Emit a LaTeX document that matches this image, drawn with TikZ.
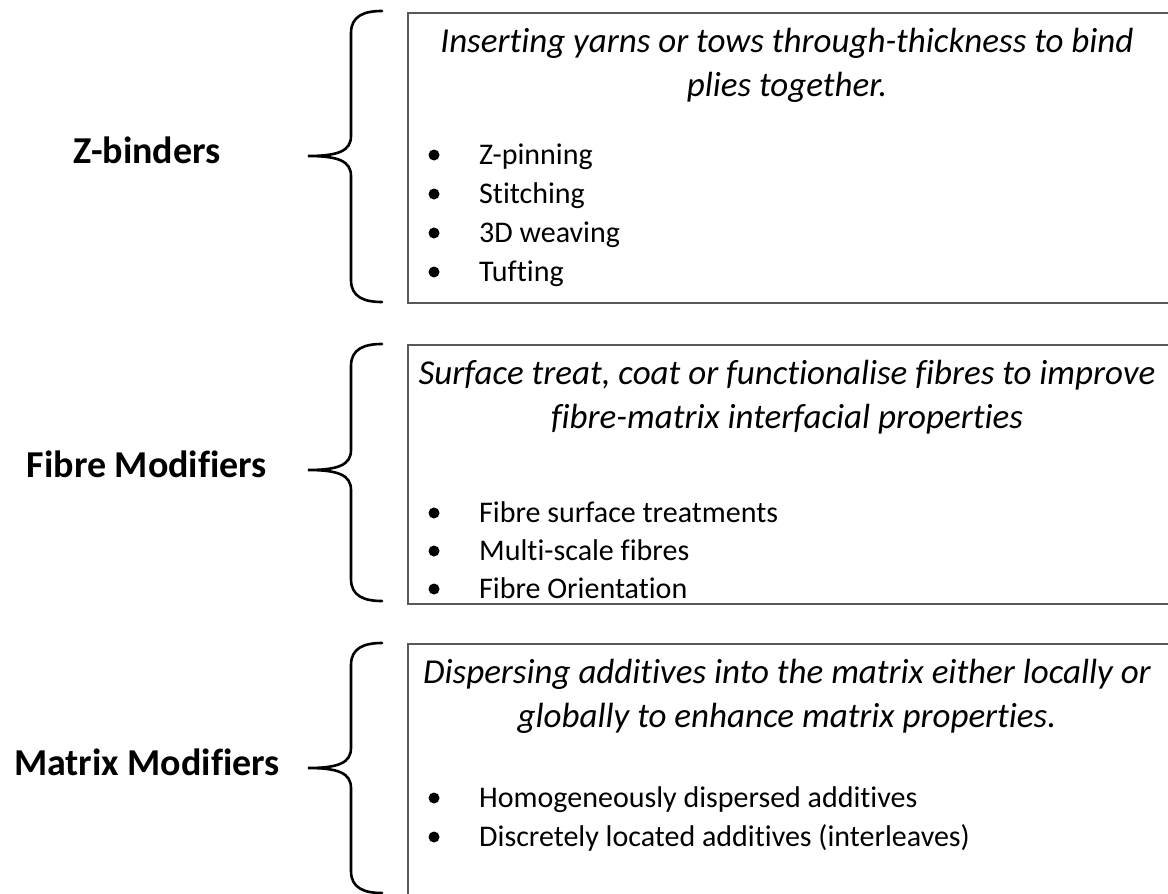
\documentclass[tikz,border=0pt]{standalone}
\usepackage{fontspec}
\setmainfont{Carlito}[Ligatures={NoCommon,NoContextual,NoDiscretionary}]
\usetikzlibrary{positioning}

% curly bracket: top y, tip y, bottom y
\newcommand{\bracket}[3]{%
  \draw[curly] (382,#1) .. controls (364,#1) and (351,#1+5) .. (351,#1+22)
    -- (351,#2-20) .. controls (351,#2-5) and (338,#2) .. (308,#2)
    .. controls (338,#2) and (351,#2+5) .. (351,#2+20)
    -- (351,#3-22) .. controls (351,#3-5) and (364,#3) .. (382,#3);}

\tikzset{
  heading/.style={font=\fontsize{38}{46}\selectfont\bfseries, anchor=base},
  desc/.style={font=\fontsize{35}{44}\selectfont\itshape, anchor=base},
  item/.style={font=\fontsize{30}{38}\selectfont, anchor=base west, inner sep=0pt},
  dot/.style={circle, fill=black, inner sep=0pt, minimum size=11pt},
  frame/.style={draw=black!65, line width=1.5pt, inner sep=0pt, anchor=north west, minimum width=770pt},
  curly/.style={line width=2.6pt, line cap=round},
}

\begin{document}
\begin{tikzpicture}[x=1pt,y=-1pt]
  \useasboundingbox (0,0) rectangle (1168,894);
  \clip (0,0) rectangle (1168,894);
  \fill[white] (0,0) rectangle (1168,894);

  % Z-binders
  \node[heading] (zhead) at (147,163) {Z-binders};
  \node[frame, minimum height=290pt] (zbox) at (407,12) {};
  \bracket{11}{156}{302}
  \node[desc] (zdesc1) at (787,52) {Inserting yarns or tows through-thickness to bind};
  \node[desc] (zdesc2) at (787,96) {plies together.};
  \foreach \txt [count=\i] in {Z-pinning, Stitching, 3D weaving, Tufting} {
    \node[dot] (zdot\i) at (434,116+39*\i) {};
    \node[item] (zitem\i) at (479,125+39*\i) {\txt};
  }

  % Fibre modifiers
  \node[heading] (fhead) at (147,477) {Fibre Modifiers};
  \node[frame, minimum height=259pt] (fbox) at (407,344) {};
  \bracket{344}{470}{601}
  \node[desc] (fdesc1) at (787,384) {Surface treat, coat or functionalise fibres to improve};
  \node[desc] (fdesc2) at (787,428) {fibre-matrix interfacial properties};
  \foreach \txt [count=\i] in {Fibre surface treatments, Multi-scale fibres, Fibre Orientation} {
    \node[dot] (fdot\i) at (434,475+38*\i) {};
    \node[item] (fitem\i) at (479,484+38*\i) {\txt};
  }

  % Matrix modifiers
  \node[heading] (mhead) at (147,775) {Matrix Modifiers};
  \node[frame, minimum height=270pt] (mbox) at (407,643) {};
  \bracket{643}{768}{893}
  \node[desc] (mdesc1) at (787,683) {Dispersing additives into the matrix either locally or};
  \node[desc] (mdesc2) at (787,727) {globally to enhance matrix properties.};
  \foreach \txt [count=\i] in {Homogeneously dispersed additives, Discretely located additives (interleaves)} {
    \node[dot] (mdot\i) at (434,759+39*\i) {};
    \node[item] (mitem\i) at (479,768+39*\i) {\txt};
  }
\end{tikzpicture}
\end{document}
